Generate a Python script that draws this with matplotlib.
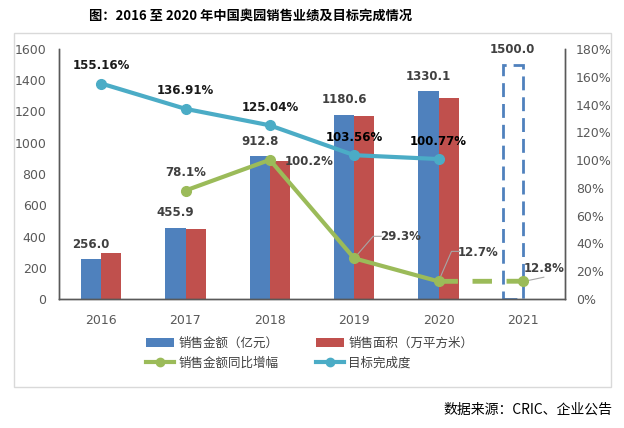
import matplotlib
matplotlib.use("Agg")
import matplotlib.pyplot as plt
import numpy as np
from matplotlib.patches import Rectangle, Patch
from matplotlib.lines import Line2D

CJK = ['Noto Sans CJK SC', 'DejaVu Sans']

years = ['2016', '2017', '2018', '2019', '2020', '2021']
sales = [256.0, 455.9, 912.8, 1180.6, 1330.1]
sales_target = 1500.0
area = [294, 448, 883, 1171, 1286]
growth = [np.nan, 78.1, 100.2, 29.3, 12.7]
growth_target = 12.8
completion = [155.16, 136.91, 125.04, 103.56, 100.77]

left_ticks = [0, 200, 400, 600, 800, 1000, 1200, 1400, 1600]
right_ticks = [0, 20, 40, 60, 80, 100, 120, 140, 160, 180]

BLUE = '#4F81BD'
RED = '#C0504D'
GREEN = '#9BBB59'
CYAN = '#4BACC6'
TXT = '#404040'

W, H = 624, 428
fig = plt.figure(figsize=(W/100, H/100), dpi=100)

def fx(px):
    return px / W

def fy(py):
    return 1 - py / H

ax = fig.add_axes([fx(59), fy(299), fx(565) - fx(59), fy(49) - fy(299)])
ax2 = ax.twinx()

x = np.arange(len(years))
bw = 0.24
xs = x[:5]
ax.bar(xs - bw/2, sales, bw, color=BLUE, zorder=2)
ax.bar(xs + bw/2, area, bw, color=RED, zorder=2)
# 2021 target dashed bar
ax.bar(x[5] - bw/2, sales_target, bw, facecolor='none', edgecolor=BLUE,
       linestyle=(0, (5, 2.5)), linewidth=2, zorder=2)

ax.set_xlim(-0.5, 5.5)
ax.set_ylim(0, 1600)
ax.set_yticks(left_ticks)
ax.set_yticklabels([str(v) for v in left_ticks])
ax.set_xticks(x)
ax.set_xticklabels(years)

ax2.set_ylim(0, 180)
ax2.set_yticks(right_ticks)
ax2.set_yticklabels([f'{v}%' for v in right_ticks])

for a in (ax, ax2):
    a.tick_params(length=0, labelsize=9, colors='#595959')
    for s in ('top',):
        a.spines[s].set_visible(False)
    for s in ('left', 'right', 'bottom'):
        a.spines[s].set_color('#595959')
        a.spines[s].set_linewidth(1)
ax.tick_params(axis='y', pad=9)
ax.tick_params(axis='x', pad=11)
ax2.tick_params(axis='y', pad=8)

# bar labels
for xi, v in zip(xs, sales):
    ax.annotate(f'{v:.1f}', (xi - bw/2, v), xytext=(0, 15), textcoords='offset pixels',
                ha='center', va='center', fontsize=8.5, fontweight='bold', color=TXT)
ax.annotate(f'{sales_target:.1f}', (x[5] - bw/2, sales_target), xytext=(0, 15),
            textcoords='offset pixels', ha='center', va='center', fontsize=8.5,
            fontweight='bold', color=TXT)

# lines
ax2.plot(xs, completion, color=CYAN, lw=3, marker='o', ms=7, zorder=4)
ax2.plot(xs, growth, color=GREEN, lw=3, marker='o', ms=7, zorder=4)
ax2.plot([x[4], x[5]], [growth[4], growth_target], color=GREEN, lw=3.5,
         linestyle=(0, (4, 3)), zorder=4)
ax2.plot([x[5]], [growth_target], color=GREEN, marker='o', ms=7, zorder=4)

for i, v in enumerate(completion):
    c = 'black' if i >= 3 else '#1a1a1a'
    ax2.annotate(f'{v:.2f}%', (xs[i], v), xytext=(0, 18), textcoords='offset pixels',
                 ha='center', va='center', fontsize=8.5, fontweight='bold', color=c)

# growth labels
ax2.annotate(f'{growth[1]}%', (xs[1], growth[1]), xytext=(0, 18), textcoords='offset pixels',
             ha='center', va='center', fontsize=8.5, fontweight='bold', color=TXT)
ax2.annotate(f'{growth[2]}%', (xs[2], growth[2]), xytext=(39, -2), textcoords='offset pixels',
             ha='center', va='center', fontsize=8.5, fontweight='bold', color=TXT)

def leader(xi, v, elbow):
    px0, py0 = ax2.transData.transform((xi, v))
    ex, ey = px0 + elbow[0], py0 + elbow[1]
    inv = ax2.transData.inverted()
    pts = [inv.transform((px0, py0)), inv.transform((ex, ey)), inv.transform((ex + 8, ey))]
    ax2.plot([p[0] for p in pts], [p[1] for p in pts], color='#a6a6a6', lw=0.8, zorder=3,
             clip_on=False)

leader(xs[3], growth[3], (19, 22))
ax2.annotate(f'{growth[3]}%', (xs[3], growth[3]), xytext=(46, 22), textcoords='offset pixels',
             ha='center', va='center', fontsize=8.5, fontweight='bold', color=TXT)
leader(xs[4], growth[4], (13, 30))
ax2.annotate(f'{growth[4]}%', (xs[4], growth[4]), xytext=(40, 29), textcoords='offset pixels',
             ha='center', va='center', fontsize=8.5, fontweight='bold', color=TXT)
# 2021 leader
p0 = ax2.transData.transform((x[5], growth_target))
inv = ax2.transData.inverted()
q0 = inv.transform((p0[0] + 2, p0[1]))
q1 = inv.transform((p0[0] + 21, p0[1] + 4))
ax2.plot([q0[0], q1[0]], [q0[1], q1[1]], color='#a6a6a6', lw=0.8, zorder=3, clip_on=False)
ax2.annotate(f'{growth_target}%', (x[5], growth_target), xytext=(21, 13),
             textcoords='offset pixels', ha='center', va='center', fontsize=8.5,
             fontweight='bold', color=TXT)

# legend
handles = [
    Patch(facecolor=BLUE, edgecolor='none'),
    Line2D([], [], color=GREEN, lw=3, marker='o', ms=6),
    Patch(facecolor=RED, edgecolor='none'),
    Line2D([], [], color=CYAN, lw=3, marker='o', ms=6),
]
labels = ['销售金额（亿元）', '销售金额同比增幅', '销售面积（万平方米）', '目标完成度']
leg = fig.legend(handles, labels, loc='upper left', bbox_to_anchor=(fx(146), fy(337)),
                 ncol=2, frameon=False, borderpad=0, borderaxespad=0,
                 handlelength=2.2, handleheight=0.8, handletextpad=0.4,
                 columnspacing=3.0, labelspacing=0.55,
                 prop={'family': CJK, 'size': 9})
for t in leg.get_texts():
    t.set_color(TXT)

# title and source
fig.text(fx(251), fy(16), '图：2016 至 2020 年中国奥园销售业绩及目标完成情况', ha='center', va='center',
         fontsize=9.5, fontweight='bold', family=CJK, color='black')
fig.text(fx(612), fy(410), '数据来源：CRIC、企业公告', ha='right', va='center',
         fontsize=10, family=CJK, color='black')

# outer frame
fig.patches.append(Rectangle((fx(14), fy(387)), fx(611) - fx(14), fy(33) - fy(387),
                             transform=fig.transFigure, fill=False, edgecolor='#d9d9d9', lw=1))

fig.savefig('out.png', dpi=100)
